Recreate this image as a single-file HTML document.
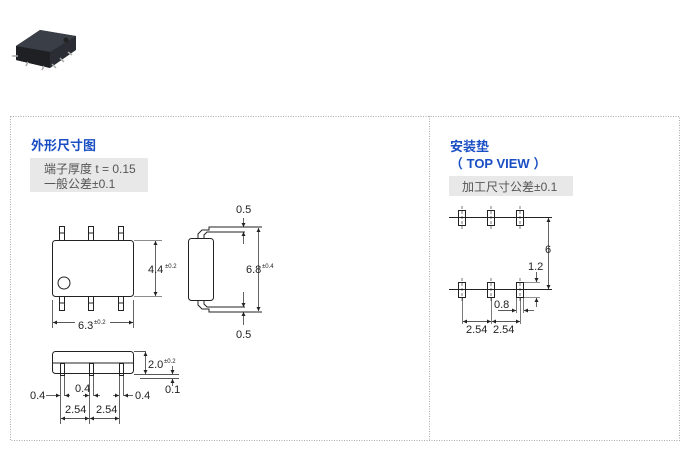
<!DOCTYPE html>
<html><head><meta charset="utf-8"><style>
html,body{margin:0;padding:0;background:#fff;width:695px;height:456px;overflow:hidden}
svg{display:block}
text{font-family:"Liberation Sans","Noto Sans CJK SC",sans-serif;fill:#222}
.t{fill:#1a4fc4;font-weight:bold;font-size:13px}
.g{fill:#555;font-size:12px}
.d{font-size:11px}
.s{font-size:6px}
</style></head><body>
<svg width="695" height="456" viewBox="0 0 695 456" xmlns="http://www.w3.org/2000/svg">
<defs>
<marker id="a" viewBox="0 0 6 6" refX="6" refY="3" markerUnits="userSpaceOnUse" markerWidth="5" markerHeight="4" orient="auto-start-reverse"><path d="M0,0L6,3L0,6z" fill="#222"/></marker>
</defs>
<!-- photo -->
<g>
<path d="M16,46 L40,30 L76,36 L76,50 L50,68 L16,60 Z" fill="#2a2d33"/>
<path d="M16,46 L40,30 L76,36 L50,52 Z" fill="#3a3e46"/>
<path d="M16,46 L50,52 L50,68 L16,60Z" fill="#1e2024"/>
<path d="M12,56h6M28,62l-2,4M44,66l-2,4M52,64l4,4M60,58l4,4M68,52l4,3" stroke="#aaa" stroke-width="1.5"/>
<circle cx="66" cy="40" r="2.5" fill="#222"/>
</g>
<!-- borders -->
<g fill="none" stroke="#aaa" stroke-dasharray="1,1.5">
<rect x="10.5" y="116.5" width="669" height="324"/>
<line x1="429.5" y1="116" x2="429.5" y2="440"/>
</g>
<!-- left titles -->
<text x="31" y="150" class="t">外形尺寸图</text>
<rect x="30" y="158" width="118" height="34" fill="#e8e8e8"/>
<text x="44" y="173" class="g">端子厚度 t = 0.15</text>
<text x="44" y="188" class="g">一般公差±0.1</text>
<g stroke="#222" fill="none" stroke-width="1">
<!-- top view -->
<rect x="52.5" y="240.5" width="81" height="56" rx="3"/>
<circle cx="64" cy="283" r="6"/>
<g>
<rect x="59.5" y="226.5" width="5" height="14"/><rect x="88.5" y="226.5" width="5" height="14"/><rect x="118.5" y="226.5" width="5" height="14"/>
<rect x="59.5" y="296.5" width="5" height="14"/><rect x="88.5" y="296.5" width="5" height="14"/><rect x="118.5" y="296.5" width="5" height="14"/>
<path d="M59,233h6M88,233h6M118,233h6M59,303h6M88,303h6M118,303h6"/>
</g>
<path d="M134,240.5h28M134,296.5h28" stroke="#666" stroke-width=".7"/>
<line x1="155.5" y1="241" x2="155.5" y2="296" marker-start="url(#a)" marker-end="url(#a)" stroke-width=".7"/>
<path d="M52.5,300v28M133.5,300v28" stroke-width=".7"/>
<line x1="53" y1="322.5" x2="75" y2="322.5" marker-start="url(#a)" stroke-width=".7"/>
<line x1="110" y1="322.5" x2="133" y2="322.5" marker-end="url(#a)" stroke-width=".7"/>
<!-- side view -->
<rect x="188.5" y="238.5" width="25" height="62" rx="3"/>
<path d="M198,238 v-4 l4,-4 h7 v-3 h53"/>
<path d="M204,238 v-3 l3,-3 h38"/>
<path d="M198,301 v4 l4,4 h7 v3 h53"/>
<path d="M204,301 v3 l3,3 h38"/>
<line x1="243.5" y1="218" x2="243.5" y2="227" marker-end="url(#a)" stroke-width=".7"/>
<line x1="243.5" y1="244" x2="243.5" y2="232" marker-end="url(#a)" stroke-width=".7"/>
<line x1="243.5" y1="292" x2="243.5" y2="307" marker-end="url(#a)" stroke-width=".7"/>
<line x1="243.5" y1="325" x2="243.5" y2="312" marker-end="url(#a)" stroke-width=".7"/>
<line x1="258.5" y1="228" x2="258.5" y2="311" marker-start="url(#a)" marker-end="url(#a)" stroke-width=".7"/>
<!-- bottom side view -->
<rect x="52.5" y="351.5" width="81" height="22" rx="3"/>
<path d="M52,363h81"/>
<rect x="60.5" y="363.5" width="4" height="12"/><rect x="89.5" y="363.5" width="4" height="12"/><rect x="119.5" y="363.5" width="4" height="12"/>
<path d="M134,351.5h12M134,374.5h45M140,378.5h39" stroke-width=".7"/>
<line x1="145.5" y1="352" x2="145.5" y2="374" marker-start="url(#a)" marker-end="url(#a)" stroke-width=".7"/>
<line x1="172.5" y1="366" x2="172.5" y2="374" marker-end="url(#a)" stroke-width=".7"/>
<line x1="172.5" y1="386" x2="172.5" y2="379" marker-end="url(#a)" stroke-width=".7"/>
<path d="M60.5,376v48M64.5,376v20M89.5,376v48M93.5,376v20M119.5,376v48M123.5,376v20" stroke-width=".7"/>
<line x1="46" y1="395.5" x2="60" y2="395.5" marker-end="url(#a)" stroke-width=".7"/>
<line x1="70" y1="395.5" x2="65" y2="395.5" marker-end="url(#a)" stroke-width=".7"/>
<line x1="83" y1="395.5" x2="89" y2="395.5" marker-end="url(#a)" stroke-width=".7"/>
<line x1="100" y1="395.5" x2="94" y2="395.5" marker-end="url(#a)" stroke-width=".7"/>
<line x1="113" y1="395.5" x2="119" y2="395.5" marker-end="url(#a)" stroke-width=".7"/>
<line x1="133" y1="395.5" x2="124" y2="395.5" marker-end="url(#a)" stroke-width=".7"/>
<line x1="61" y1="418.5" x2="89" y2="418.5" marker-start="url(#a)" marker-end="url(#a)" stroke-width=".7"/>
<line x1="90" y1="418.5" x2="119" y2="418.5" marker-start="url(#a)" marker-end="url(#a)" stroke-width=".7"/>
</g>
<text x="148" y="273" class="d">4.4</text><text x="165" y="268" class="s">±0.2</text>
<text x="78" y="329" class="d">6.3</text><text x="94" y="324" class="s">±0.2</text>
<text x="236" y="213" class="d">0.5</text>
<text x="246" y="273" class="d">6.8</text><text x="262" y="268" class="s">±0.4</text>
<text x="236" y="338" class="d">0.5</text>
<text x="148" y="368" class="d">2.0</text><text x="164" y="363" class="s">±0.2</text>
<text x="165" y="393" class="d">0.1</text>
<text x="30" y="399" class="d">0.4</text>
<text x="75" y="392" class="d">0.4</text>
<text x="135" y="399" class="d">0.4</text>
<text x="65" y="413" class="d">2.54</text>
<text x="96" y="413" class="d">2.54</text>
<!-- right -->
<text x="450" y="151" class="t">安装垫</text>
<text x="450" y="168" class="t" xml:space="preserve">（ TOP VIEW ）</text>
<rect x="449" y="176" width="124" height="20" fill="#e8e8e8"/>
<text x="462" y="191" class="g">加工尺寸公差±0.1</text>
<g stroke="#222" fill="none">
<path d="M449,217.5h103M449,289.5h103"/>
<rect x="458.5" y="210.5" width="7" height="15"/><rect x="487.5" y="210.5" width="7" height="15"/><rect x="516.5" y="210.5" width="7" height="15"/>
<rect x="458.5" y="282.5" width="7" height="15"/><rect x="487.5" y="282.5" width="7" height="15"/><rect x="516.5" y="282.5" width="7" height="15"/>
<path d="M462,206v24M491,206v24M520,206v24M462,278v24M491,278v24M520,278v24" stroke-width=".6" stroke-dasharray="3,2"/>
<line x1="548.5" y1="218" x2="548.5" y2="289" marker-start="url(#a)" marker-end="url(#a)" stroke-width=".7"/>
<path d="M524,282.5h16M524,297.5h16" stroke-width=".6"/>
<line x1="536.5" y1="272" x2="536.5" y2="282" marker-end="url(#a)" stroke-width=".7"/>
<line x1="536.5" y1="307" x2="536.5" y2="298" marker-end="url(#a)" stroke-width=".7"/>
<path d="M516.5,298v15M523.5,298v15M462.5,298v26M491.5,298v26M520.5,298v26" stroke-width=".6"/>
<line x1="498" y1="310.5" x2="516" y2="310.5" marker-end="url(#a)" stroke-width=".7"/>
<line x1="534" y1="310.5" x2="524" y2="310.5" marker-end="url(#a)" stroke-width=".7"/>
<line x1="463" y1="321.5" x2="491" y2="321.5" marker-start="url(#a)" marker-end="url(#a)" stroke-width=".7"/>
<line x1="492" y1="321.5" x2="520" y2="321.5" marker-start="url(#a)" marker-end="url(#a)" stroke-width=".7"/>
</g>
<text x="545" y="253" class="d">6</text>
<text x="528" y="270" class="d">1.2</text>
<text x="494" y="308" class="d">0.8</text>
<text x="466" y="333" class="d">2.54</text>
<text x="493" y="333" class="d">2.54</text>
</svg>
</body></html>
